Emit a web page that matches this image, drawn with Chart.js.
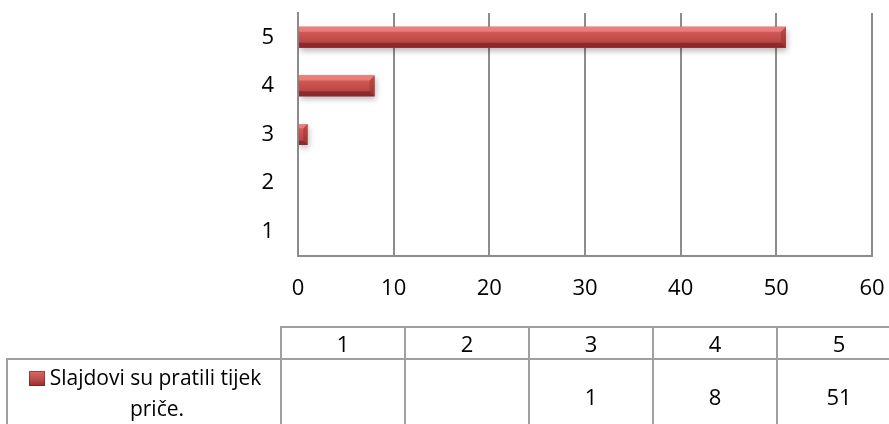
<!DOCTYPE html>
<html>
<head>
<meta charset="utf-8">
<script src="https://cdn.jsdelivr.net/npm/chart.js@4"></script>
<style>
  html, body { margin: 0; padding: 0; background: #fff; }
  #wrap { position: relative; width: 889px; height: 424px; overflow: hidden; font-family: "Open Sans", sans-serif; }
  #myChart { position: absolute; left: 0; top: 0; }
  #tabla { position: absolute; left: 6px; top: 326px; width: 894px; border-collapse: collapse; table-layout: fixed; font-size: 22px; color: #000; }
  #tabla td { border: 2px solid #a0a0a0; text-align: center; padding: 0; }
  #tabla tr.cab td { height: 30px; line-height: 28px; }
  #tabla tr.cab td.vacio { border-top: none; border-left: none; }
  #tabla tr.fila td { height: 72px; vertical-align: middle; }
  #leyenda { position: absolute; left: 10px; top: 362px; width: 270px; font-size: 21px; line-height: 31px; color: #000; }
  #leyenda div { display: block; width: 100%; text-align: center; white-space: nowrap; }
  #leyenda div.l2 { padding-left: 24px; box-sizing: border-box; }
  .marca { display: inline-block; width: 16px; height: 15px; margin-right: 5px; vertical-align: -1px;
           background: linear-gradient(#e06663, #c0504d 50%, #8e2f2d); box-shadow: inset 0 0 0 1px rgba(110,25,25,0.5); }
</style>
</head>
<body>
<div id="wrap">
  <canvas id="myChart" width="889" height="424"></canvas>
  <table id="tabla">
    <colgroup id="cols"></colgroup>
    <tr class="cab" id="cabecera"><td class="vacio"></td></tr>
    <tr class="fila" id="datos"></tr>
  </table>
  <div id="leyenda"></div>
</div>
<script>
// Datos
const categorias = ['1', '2', '3', '4', '5'];
const valores = [null, null, 1, 8, 51];
const nombreSerie = 'Slajdovi su pratili tijek priče.';
const ejeMin = 0;
const ejeMax = 60;
const ejePaso = 10;

// Tabla de datos bajo el gráfico
const cols = document.getElementById('cols');
const anchos = [274].concat(categorias.map(() => 124));
anchos.forEach(w => {
  const c = document.createElement('col');
  c.style.width = w + 'px';
  cols.appendChild(c);
});
const cabecera = document.getElementById('cabecera');
categorias.forEach(cat => {
  const td = document.createElement('td');
  td.textContent = cat;
  cabecera.appendChild(td);
});
const datos = document.getElementById('datos');
datos.appendChild(document.createElement('td')); // celda de la serie
valores.forEach(v => {
  const td = document.createElement('td');
  td.textContent = v === null ? '' : v;
  datos.appendChild(td);
});

// Leyenda en dos líneas, como en el original
const palabras = nombreSerie.split(' ');
const leyenda = document.getElementById('leyenda');
const linea1 = document.createElement('div');
linea1.innerHTML = '<span class="marca"></span>';
linea1.appendChild(document.createTextNode(palabras.slice(0, -1).join(' ')));
const linea2 = document.createElement('div');
linea2.className = 'l2';
linea2.textContent = palabras[palabras.length - 1];
leyenda.appendChild(linea1);
leyenda.appendChild(linea2);

// Sombra de las barras
const sombra = {
  id: 'sombra',
  beforeDatasetsDraw(chart) {
    const ctx = chart.ctx;
    ctx.save();
    ctx.shadowColor = 'rgba(0,0,0,0.28)';
    ctx.shadowBlur = 6;
    ctx.shadowOffsetY = 3;
    ctx.shadowOffsetX = 1;
  },
  afterDatasetsDraw(chart) {
    chart.ctx.restore();
  }
};

// Efecto biselado sobre cada barra
const bisel = {
  id: 'bisel',
  afterDatasetsDraw(chart) {
    const ctx = chart.ctx;
    const meta = chart.getDatasetMeta(0);
    meta.data.forEach((bar, i) => {
      if (valores[i] === null) return;
      const p = bar.getProps(['x', 'y', 'base', 'height'], true);
      const izq = Math.min(p.base, p.x), der = Math.max(p.base, p.x);
      const arr = p.y - p.height / 2, abj = p.y + p.height / 2;
      const b = Math.min(5, (der - izq) / 2);
      const g = ctx.createLinearGradient(0, arr, 0, abj);
      g.addColorStop(0, '#dc625f');
      g.addColorStop(0.5, '#c64f4c');
      g.addColorStop(1, '#a83f3d');
      ctx.fillStyle = g;
      ctx.fillRect(izq, arr, der - izq, abj - arr);
      // borde superior claro
      ctx.fillStyle = 'rgba(255,150,150,0.55)';
      ctx.beginPath();
      ctx.moveTo(izq, arr); ctx.lineTo(der, arr); ctx.lineTo(der - b, arr + b); ctx.lineTo(izq, arr + b);
      ctx.closePath(); ctx.fill();
      // borde inferior oscuro
      ctx.fillStyle = 'rgba(100,20,20,0.5)';
      ctx.beginPath();
      ctx.moveTo(izq, abj); ctx.lineTo(der, abj); ctx.lineTo(der - b, abj - b); ctx.lineTo(izq, abj - b);
      ctx.closePath(); ctx.fill();
      // extremo derecho
      ctx.fillStyle = 'rgba(120,30,30,0.3)';
      ctx.beginPath();
      ctx.moveTo(der, arr); ctx.lineTo(der, abj); ctx.lineTo(der - b, abj - b); ctx.lineTo(der - b, arr + b);
      ctx.closePath(); ctx.fill();
    });
  }
};

// Quitar el margen extra que Chart.js reserva para las etiquetas de los extremos
function sinMargenes(s) {
  s.paddingTop = 0;
  s.paddingBottom = 0;
  s.paddingLeft = 0;
  s.paddingRight = 0;
}

const ctx = document.getElementById('myChart').getContext('2d');
const myChart = new Chart(ctx, {
  type: 'bar',
  data: {
    labels: categorias,
    datasets: [{
      label: nombreSerie,
      data: valores,
      backgroundColor: '#c0504d',
      borderWidth: 0,
      categoryPercentage: 1,
      barPercentage: 0.43
    }]
  },
  options: {
    indexAxis: 'y',
    responsive: false,
    animation: false,
    layout: { padding: { left: 0, right: 17, top: 13, bottom: 118 } },
    plugins: { legend: { display: false }, tooltip: { enabled: false } },
    scales: {
      x: {
        min: ejeMin,
        max: ejeMax,
        ticks: { stepSize: ejePaso, color: '#000', padding: 20, font: { family: 'Open Sans', size: 22 } },
        grid: { color: '#8c8c8c', lineWidth: 2, drawTicks: false },
        border: { color: '#8c8c8c', width: 2 },
        afterFit: s => { s.height = 50; sinMargenes(s); }
      },
      y: {
        reverse: true,
        ticks: { color: '#000', padding: 24, font: { family: 'Open Sans', size: 22 } },
        grid: { display: false, drawTicks: false },
        border: { color: '#8c8c8c', width: 2 },
        afterFit: s => { s.width = 298; sinMargenes(s); }
      }
    }
  },
  plugins: [sombra, bisel]
});
</script>
</body>
</html>
